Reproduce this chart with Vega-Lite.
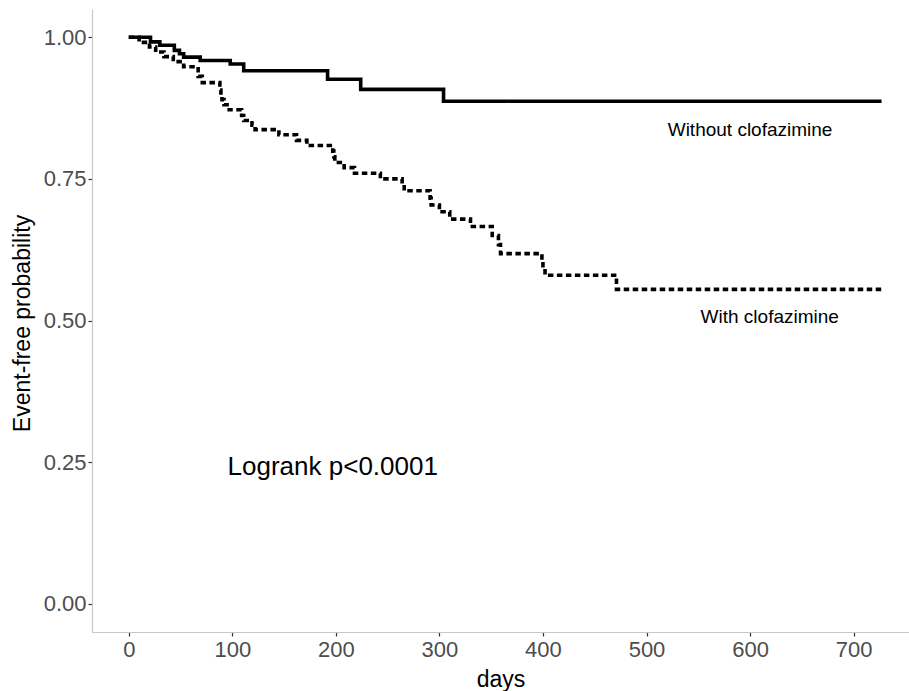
{
  "$schema": "https://vega.github.io/schema/vega-lite/v6.json",
  "width": 817,
  "height": 623,
  "autosize": {"type": "none"},
  "padding": {"left": 92, "top": 9, "right": 0, "bottom": 59},
  "background": "white",
  "config": {
    "view": {"stroke": null},
    "font": "Liberation Sans",
    "axis": {
      "grid": false,
      "domainColor": "#C8C8C8",
      "domainWidth": 1.2,
      "tickColor": "#333333",
      "tickSize": 4,
      "tickWidth": 1.2,
      "labelFont": "Liberation Sans",
      "labelFontSize": 22,
      "labelColor": "#4D4D4D",
      "titleFont": "Liberation Sans",
      "titleFontSize": 23,
      "titleFontWeight": "normal",
      "titleColor": "#000000"
    }
  },
  "datasets": {
    "curves": [
      {"group": "Without clofazimine", "days": 0, "prob": 1.0},
      {"group": "Without clofazimine", "days": 21, "prob": 0.992},
      {"group": "Without clofazimine", "days": 30, "prob": 0.986},
      {"group": "Without clofazimine", "days": 44, "prob": 0.977},
      {"group": "Without clofazimine", "days": 49, "prob": 0.971},
      {"group": "Without clofazimine", "days": 53, "prob": 0.965},
      {"group": "Without clofazimine", "days": 69, "prob": 0.959},
      {"group": "Without clofazimine", "days": 98, "prob": 0.953},
      {"group": "Without clofazimine", "days": 111, "prob": 0.941},
      {"group": "Without clofazimine", "days": 192, "prob": 0.926},
      {"group": "Without clofazimine", "days": 224, "prob": 0.908},
      {"group": "Without clofazimine", "days": 304, "prob": 0.887},
      {"group": "Without clofazimine", "days": 727, "prob": 0.887},
      {"group": "With clofazimine", "days": 0, "prob": 1.0},
      {"group": "With clofazimine", "days": 10, "prob": 0.991},
      {"group": "With clofazimine", "days": 20, "prob": 0.983},
      {"group": "With clofazimine", "days": 26, "prob": 0.974},
      {"group": "With clofazimine", "days": 34, "prob": 0.966},
      {"group": "With clofazimine", "days": 43, "prob": 0.957},
      {"group": "With clofazimine", "days": 53, "prob": 0.948},
      {"group": "With clofazimine", "days": 67, "prob": 0.931},
      {"group": "With clofazimine", "days": 71, "prob": 0.920},
      {"group": "With clofazimine", "days": 88, "prob": 0.907},
      {"group": "With clofazimine", "days": 89, "prob": 0.898},
      {"group": "With clofazimine", "days": 90, "prob": 0.890},
      {"group": "With clofazimine", "days": 92, "prob": 0.881},
      {"group": "With clofazimine", "days": 97, "prob": 0.872},
      {"group": "With clofazimine", "days": 109, "prob": 0.862},
      {"group": "With clofazimine", "days": 111, "prob": 0.853},
      {"group": "With clofazimine", "days": 119, "prob": 0.845},
      {"group": "With clofazimine", "days": 122, "prob": 0.837},
      {"group": "With clofazimine", "days": 145, "prob": 0.828},
      {"group": "With clofazimine", "days": 162, "prob": 0.818},
      {"group": "With clofazimine", "days": 172, "prob": 0.809},
      {"group": "With clofazimine", "days": 197, "prob": 0.799},
      {"group": "With clofazimine", "days": 198, "prob": 0.789},
      {"group": "With clofazimine", "days": 199, "prob": 0.779},
      {"group": "With clofazimine", "days": 208, "prob": 0.770},
      {"group": "With clofazimine", "days": 218, "prob": 0.760},
      {"group": "With clofazimine", "days": 243, "prob": 0.750},
      {"group": "With clofazimine", "days": 264, "prob": 0.740},
      {"group": "With clofazimine", "days": 266, "prob": 0.729},
      {"group": "With clofazimine", "days": 291, "prob": 0.716},
      {"group": "With clofazimine", "days": 292, "prob": 0.704},
      {"group": "With clofazimine", "days": 300, "prob": 0.692},
      {"group": "With clofazimine", "days": 310, "prob": 0.679},
      {"group": "With clofazimine", "days": 330, "prob": 0.666},
      {"group": "With clofazimine", "days": 351, "prob": 0.650},
      {"group": "With clofazimine", "days": 357, "prob": 0.634},
      {"group": "With clofazimine", "days": 359, "prob": 0.618},
      {"group": "With clofazimine", "days": 399, "prob": 0.604},
      {"group": "With clofazimine", "days": 400, "prob": 0.592},
      {"group": "With clofazimine", "days": 402, "prob": 0.580},
      {"group": "With clofazimine", "days": 471, "prob": 0.555},
      {"group": "With clofazimine", "days": 727, "prob": 0.555}
    ],
    "notes": [
      {"label": "Without clofazimine", "days": 600, "prob": 0.837, "kind": "curve"},
      {"label": "With clofazimine", "days": 619, "prob": 0.507, "kind": "curve"},
      {"label": "Logrank p<0.0001", "days": 197, "prob": 0.241, "kind": "test"}
    ]
  },
  "layer": [
    {
      "data": {"name": "curves"},
      "mark": {"type": "line", "interpolate": "step-after", "color": "black", "strokeWidth": 3.6, "strokeCap": "butt"},
      "encoding": {
        "x": {
          "field": "days", "type": "quantitative",
          "scale": {"domain": [-35.5, 753.5], "nice": false, "zero": false},
          "axis": {"values": [0, 100, 200, 300, 400, 500, 600, 700], "title": "days", "labelPadding": 3, "titleY": 47, "titleBaseline": "middle"}
        },
        "y": {
          "field": "prob", "type": "quantitative",
          "scale": {"domain": [-0.05, 1.05], "nice": false, "zero": false},
          "axis": {"values": [0, 0.25, 0.5, 0.75, 1], "format": ".2f", "title": "Event-free probability", "labelPadding": 2, "titleX": -70, "titleY": 314, "titleBaseline": "middle", "titleAngle": 270}
        },
        "detail": {"field": "group"},
        "strokeDash": {
          "field": "group", "type": "nominal",
          "scale": {"domain": ["Without clofazimine", "With clofazimine"], "range": [[1, 0], [5.5, 3.5]]},
          "legend": null
        }
      }
    },
    {
      "data": {"name": "notes"},
      "mark": {"type": "text", "font": "Liberation Sans", "color": "black", "align": "center", "baseline": "middle"},
      "encoding": {
        "x": {"field": "days", "type": "quantitative"},
        "y": {"field": "prob", "type": "quantitative"},
        "text": {"field": "label"},
        "size": {
          "field": "kind", "type": "nominal",
          "scale": {"domain": ["curve", "test"], "range": [19, 26]},
          "legend": null
        }
      }
    }
  ]
}
